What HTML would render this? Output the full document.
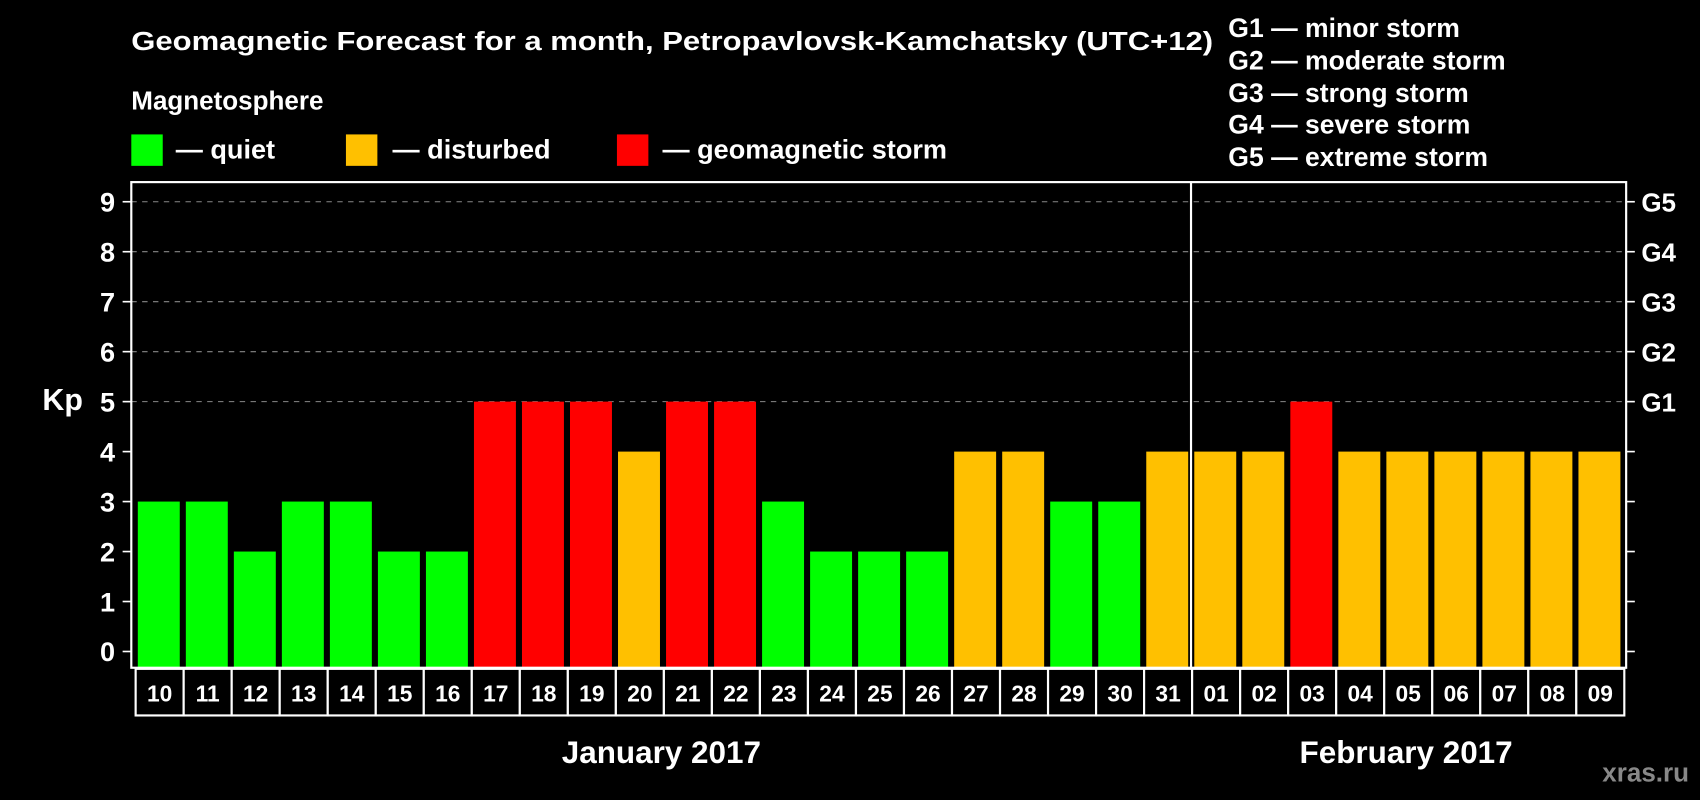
<!DOCTYPE html>
<html><head><meta charset="utf-8"><style>
html,body{margin:0;padding:0;background:#000;width:1700px;height:800px;overflow:hidden}
svg{display:block;font-family:"Liberation Sans",Arial,sans-serif;font-weight:bold}
</style></head><body>
<svg id="chart" width="1700" height="800" viewBox="0 0 1568 738" xmlns="http://www.w3.org/2000/svg">
<rect width="1568" height="738" fill="#000"/>
<text x="121" y="46" fill="#fff" font-size="24" textLength="998" lengthAdjust="spacingAndGlyphs">Geomagnetic Forecast for a month, Petropavlovsk-Kamchatsky (UTC+12)</text>
<text x="121" y="101" fill="#fff" font-size="24">Magnetosphere</text>
<rect x="121" y="124" width="29" height="29" fill="#00ff00"/>
<text x="162" y="146" fill="#fff" font-size="25">— quiet</text>
<rect x="319" y="124" width="29" height="29" fill="#ffc000"/>
<text x="362" y="146" fill="#fff" font-size="25">— disturbed</text>
<rect x="569" y="124" width="29" height="29" fill="#ff0000"/>
<text x="611" y="146" fill="#fff" font-size="25">— geomagnetic storm</text>
<g fill="#fff" font-size="24.5">
<text x="1133" y="34">G1 — minor storm</text>
<text x="1133" y="64">G2 — moderate storm</text>
<text x="1133" y="94">G3 — strong storm</text>
<text x="1133" y="123">G4 — severe storm</text>
<text x="1133" y="153">G5 — extreme storm</text>
</g>
<text x="39" y="378" fill="#fff" font-size="28">Kp</text>
<g id="grid"></g><g id="bars"></g><g id="axes"></g><g id="labels"></g>
<text x="610" y="704" fill="#fff" font-size="29" text-anchor="middle">January 2017</text>
<text x="1297" y="704" fill="#fff" font-size="29" text-anchor="middle">February 2017</text>
<text x="1558" y="721" fill="#888" font-size="24" text-anchor="end">xras.ru</text>
</svg>
<script>
const days=["10","11","12","13","14","15","16","17","18","19","20","21","22","23","24","25","26","27","28","29","30","31","01","02","03","04","05","06","07","08","09"];
const kpValues=[3,3,2,3,3,2,2,5,5,5,4,5,5,3,2,2,2,4,4,3,3,4,4,4,5,4,4,4,4,4,4];
const yTicks=[0,1,2,3,4,5,6,7,8,9];
const gLabels=["G1","G2","G3","G4","G5"];
const gLevels=[5,6,7,8,9];
const NS="http://www.w3.org/2000/svg";
const x0=124,pitch=44.3,plotLeft=121,plotRight=1500,plotTop=168,plotBottom=616;
const yScale=v=>601-v*46.1;
const xScale=i=>x0+i*pitch;
function mk(t,a,p){const e=document.createElementNS(NS,t);for(const k in a)e.setAttribute(k,a[k]);p.appendChild(e);return e;}
const gridG=document.getElementById('grid'),barsG=document.getElementById('bars'),axesG=document.getElementById('axes'),labelsG=document.getElementById('labels');
gLevels.forEach((v,i)=>{
 const l=mk('line',{x1:plotLeft,x2:plotRight,y1:yScale(v),y2:yScale(v),stroke:'#888','stroke-dasharray':'5,5','stroke-width':1},gridG);
 
 
 const t=mk('text',{x:1514,y:yScale(v)+9,fill:'#fff','font-size':24},axesG);t.textContent=gLabels[i];
 
 
});
kpValues.forEach((v,i)=>{
 const c=v>=5?'#ff0000':(v>=4?'#ffc000':'#00ff00');
 const r=mk('rect',{x:xScale(i)+3,y:yScale(v),width:38.7,height:plotBottom-yScale(v),fill:c},barsG);
 
 
});
mk('line',{x1:xScale(22),x2:xScale(22),y1:plotTop,y2:plotBottom,stroke:'#fff','stroke-width':2},axesG);
const fr=mk('rect',{x:plotLeft,y:plotTop,width:plotRight-plotLeft,height:plotBottom-plotTop,fill:'none',stroke:'#fff','stroke-width':2},axesG);


yTicks.forEach(v=>{
 mk('line',{x1:113,x2:plotLeft,y1:yScale(v),y2:yScale(v),stroke:'#fff','stroke-width':1.5},axesG);
 mk('line',{x1:plotRight,x2:1508,y1:yScale(v),y2:yScale(v),stroke:'#fff','stroke-width':1.5},axesG);
 const t=mk('text',{x:106,y:yScale(v)+9,fill:'#fff','font-size':25,'text-anchor':'end'},axesG);t.textContent=v;
 
 
});
days.forEach((d,i)=>{
 const r=mk('rect',{x:xScale(i)+1,y:617,width:pitch,height:43,fill:'#000',stroke:'#fff','stroke-width':2},labelsG);
 
 
 const t=mk('text',{x:xScale(i)+1+pitch/2,y:647,fill:'#fff','font-size':21,'text-anchor':'middle'},labelsG);t.textContent=d;
 
 
});
</script>
</body></html>
